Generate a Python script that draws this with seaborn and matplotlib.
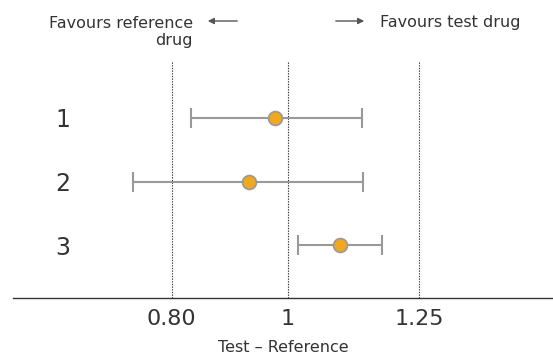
import numpy as np
import pandas as pd
import matplotlib
matplotlib.use("Agg")
import matplotlib.pyplot as plt
import seaborn as sns

# ---- data ----
studies = ["1", "2", "3"]
ratio = [0.977, 0.931, 1.096]
ci_low = [0.832, 0.738, 1.018]
ci_high = [1.138, 1.140, 1.176]
ref_lines = [0.80, 1.0, 1.25]
tick_labels = ["0.80", "1", "1.25"]

df = pd.DataFrame({"study": studies, "pos": np.arange(1, len(studies) + 1),
                   "ratio": ratio, "lo": ci_low, "hi": ci_high})

sns.set_style("white")
plt.rcParams["font.family"] = ["DejaVu Sans"]

fig = plt.figure(figsize=(5.53, 3.56), dpi=100)
ax = fig.add_axes([0.0235, 0.163, 0.9765, 0.663])

P = 0.55
fwd = lambda x: np.sign(x) * np.abs(x) ** P
inv = lambda y: np.sign(y) * np.abs(y) ** (1 / P)
ax.set_xscale("function", functions=(fwd, inv))

for v in ref_lines:
    ax.axvline(v, color="#333333", lw=0.8, ls=(0, (1.2, 1.2)), zorder=1)

ax.errorbar(df["ratio"], df["pos"],
            xerr=[df["ratio"] - df["lo"], df["hi"] - df["ratio"]],
            fmt="none", ecolor="#999999", elinewidth=1.5, capsize=7,
            capthick=1.5, zorder=2)
sns.scatterplot(data=df, x="ratio", y="pos", ax=ax, s=100,
                color="#F0A820", edgecolor="#999999", linewidth=1.2,
                zorder=3, legend=False)

ax.set_xlim(0.56, 1.53)
ax.set_ylim(3.83, 0.12)
ax.set_xticks(ref_lines)
ax.set_xticklabels(tick_labels)
ax.xaxis.set_minor_locator(matplotlib.ticker.NullLocator())
ax.set_yticks(df["pos"])
ax.set_yticklabels(studies)
ax.tick_params(axis="x", direction="in", length=8, width=0.8,
               color="#222222", labelsize=16, labelcolor="#333333", pad=8)
ax.tick_params(axis="y", length=0, labelsize=17, labelcolor="#333333", pad=-36)
for lab in ax.get_yticklabels():
    lab.set_horizontalalignment("center")

for s in ["top", "right", "left"]:
    ax.spines[s].set_visible(False)
ax.spines["bottom"].set_color("#333333")
ax.spines["bottom"].set_linewidth(1.0)

ax.set_xlabel("Test – Reference", fontsize=11.5, color="#333333", labelpad=8)
ax.set_ylabel("")

# top annotations
fig.text(193 / 553, 1 - 32 / 356, "Favours reference\ndrug", ha="right",
         va="center", fontsize=11.5, color="#333333", linespacing=1.25)
fig.text(380 / 553, 1 - 22 / 356, "Favours test drug", ha="left",
         va="center", fontsize=11.5, color="#333333")
fig.patches.append(matplotlib.patches.FancyArrowPatch(
    (240 / 553, 1 - 21 / 356), (205 / 553, 1 - 21 / 356),
    transform=fig.transFigure, arrowstyle="-|>", mutation_scale=9,
    color="#555555", lw=1.0))
fig.patches.append(matplotlib.patches.FancyArrowPatch(
    (333 / 553, 1 - 21 / 356), (367 / 553, 1 - 21 / 356),
    transform=fig.transFigure, arrowstyle="-|>", mutation_scale=9,
    color="#555555", lw=1.0))

fig.savefig("out.png", dpi=100)
